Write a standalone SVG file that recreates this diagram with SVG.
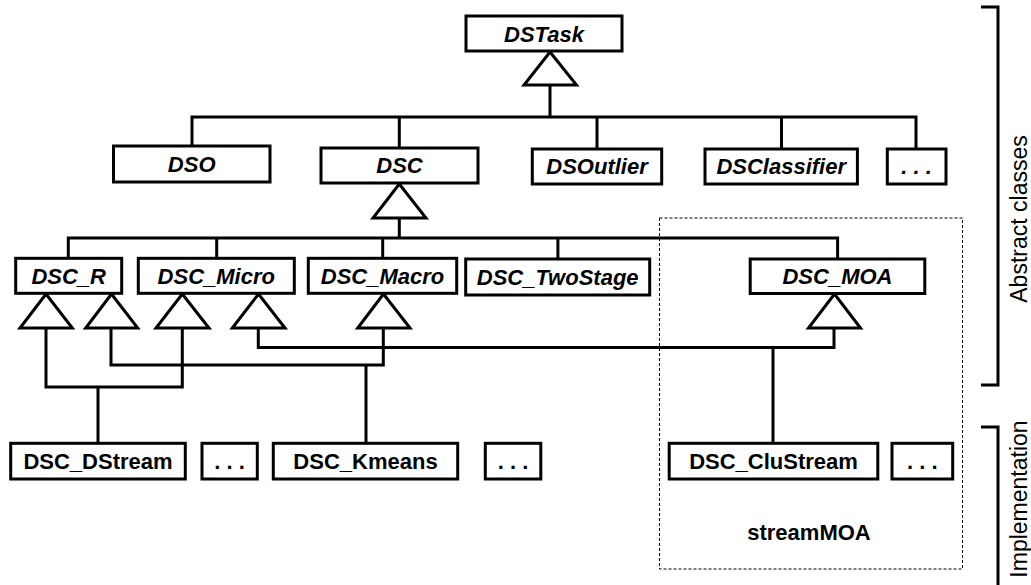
<svg xmlns="http://www.w3.org/2000/svg" width="1031" height="585" viewBox="0 0 1031 585">
<style>
.box{fill:#fff;stroke:#000;stroke-width:3}
.tri{fill:#fff;stroke:#000;stroke-width:3;stroke-linejoin:miter}
.ln{fill:none;stroke:#000;stroke-width:3}
.abs{font-family:"Liberation Sans",Arial,sans-serif;font-size:22px;font-weight:bold;font-style:italic;text-anchor:middle}
.imp{font-family:"Liberation Sans",Arial,sans-serif;font-size:22px;font-weight:bold;text-anchor:middle}
.side{font-family:"Liberation Sans",Arial,sans-serif;font-size:23px;text-anchor:middle}
</style>
<rect width="1031" height="585" fill="#fff"/>
<g id="streamMOA-package">
<rect x="659.5" y="218" width="303" height="351" fill="none" stroke="#000" stroke-width="1" stroke-dasharray="3,2"/>
<text class="imp" x="809" y="540">streamMOA</text>
</g>
<g id="connectors">
<path class="ln" d="M550 85V117M192 146V117H916V149M399.3 148V117M597 149V117M781.5 149V117"/>
<path class="ln" d="M399.3 218V238M68.3 258V238H837.6V259M216.7 258V238M382.7 258V238M557.9 259V238"/>
<path class="ln" d="M46 328V387H182.3V328M98 387V443"/>
<path class="ln" d="M111 328V365H383.3V328M366 365V443"/>
<path class="ln" d="M258.3 328V347.5H834V328M773 347.5V443"/>
<polygon class="tri" points="550,52 524,85 576.5,85"/>
<polygon class="tri" points="399.3,184 373,218 426,218"/>
<polygon class="tri" points="46,294 20,328 72.3,328"/>
<polygon class="tri" points="111.5,294 85.7,328 137.7,328"/>
<polygon class="tri" points="182.3,294 156,328 209,328"/>
<polygon class="tri" points="258.5,294 232.3,328 285,328"/>
<polygon class="tri" points="383.5,294 357.7,328 410,328"/>
<polygon class="tri" points="834.5,294 808.5,328 860.5,328"/>
</g>
<g id="DSTask"><rect class="box" x="466" y="16" width="156" height="35"/><text class="abs" x="544" y="41.5">DSTask</text></g>
<g id="DSO"><rect class="box" x="113.5" y="146" width="156.5" height="36"/><text class="abs" x="191.7" y="171.5">DSO</text></g>
<g id="DSC"><rect class="box" x="321" y="148" width="157" height="35"/><text class="abs" x="399.5" y="173">DSC</text></g>
<g id="DSOutlier"><rect class="box" x="532.3" y="149" width="129.4" height="35"/><text class="abs" x="597" y="174">DSOutlier</text></g>
<g id="DSClassifier"><rect class="box" x="705" y="149" width="152.4" height="35"/><text class="abs" x="781.2" y="174">DSClassifier</text></g>
<g id="DSTask-more"><rect class="box" x="887.3" y="149" width="58.7" height="35"/><text class="abs" x="916.6" y="174">. . .</text></g>
<g id="DSC_R"><rect class="box" x="15.7" y="258.3" width="106" height="35"/><text class="abs" x="68.7" y="283.5">DSC_R</text></g>
<g id="DSC_Micro"><rect class="box" x="138.3" y="258.3" width="156" height="35"/><text class="abs" x="216.3" y="283.5">DSC_Micro</text></g>
<g id="DSC_Macro"><rect class="box" x="308.3" y="258.3" width="148.4" height="35"/><text class="abs" x="382.5" y="283.5">DSC_Macro</text></g>
<g id="DSC_TwoStage"><rect class="box" x="465.7" y="259" width="184" height="36"/><text class="abs" x="557.7" y="284.5">DSC_TwoStage</text></g>
<g id="DSC_MOA"><rect class="box" x="750.2" y="259" width="174.6" height="34.5"/><text class="abs" x="837.5" y="284">DSC_MOA</text></g>
<g id="DSC_DStream"><rect class="box" x="10.7" y="443.3" width="174.6" height="35.7"/><text class="imp" x="98" y="469">DSC_DStream</text></g>
<g id="DSC_R-more"><rect class="box" x="202" y="443.3" width="55.3" height="35.7"/><text class="imp" x="229.6" y="469">. . .</text></g>
<g id="DSC_Kmeans"><rect class="box" x="273.3" y="443.3" width="184.4" height="35.7"/><text class="imp" x="365.5" y="469">DSC_Kmeans</text></g>
<g id="DSC_Macro-more"><rect class="box" x="485.3" y="443.3" width="55.5" height="35.7"/><text class="imp" x="513" y="469">. . .</text></g>
<g id="DSC_CluStream"><rect class="box" x="669.2" y="443.3" width="208.6" height="35.7"/><text class="imp" x="773.5" y="469">DSC_CluStream</text></g>
<g id="DSC_MOA-more"><rect class="box" x="892" y="443.3" width="60.7" height="35.7"/><text class="imp" x="922.3" y="469">. . .</text></g>
<g id="brackets">
<path class="ln" d="M981 7H998V385H981"/>
<path class="ln" d="M981 427H998V585"/>
<text class="side" transform="translate(1027,219) rotate(-90)">Abstract classes</text>
<text class="side" transform="translate(1027,499) rotate(-90)">Implementation</text>
</g>
</svg>
